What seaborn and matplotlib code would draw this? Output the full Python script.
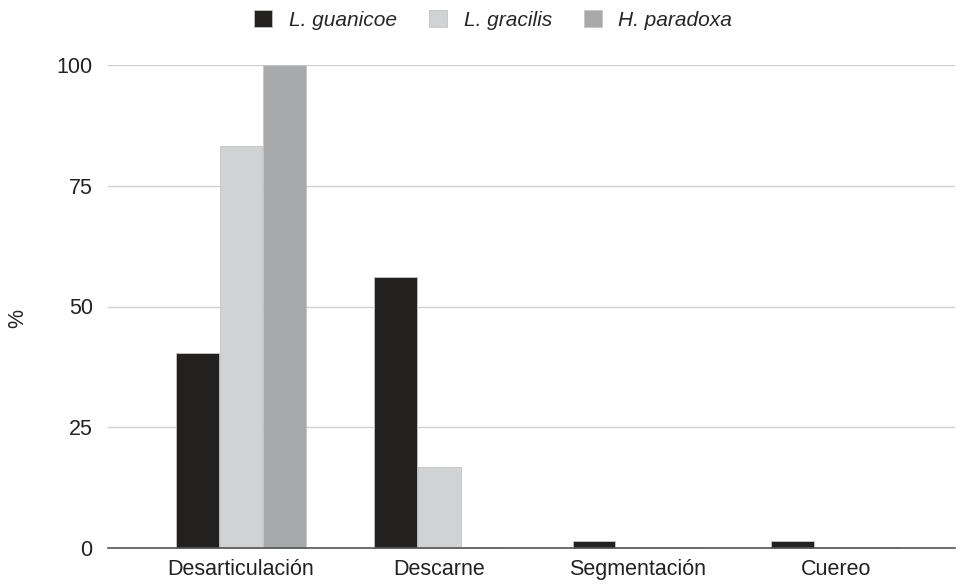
import matplotlib
matplotlib.use("Agg")
import matplotlib.pyplot as plt
import seaborn as sns
import pandas as pd

categories = ["Desarticulación", "Descarne", "Segmentación", "Cuereo"]
species = ["L. guanicoe", "L. gracilis", "H. paradoxa"]
guanicoe = [40.4, 56.1, 1.4, 1.4]
gracilis = [83.3, 16.7, 0.0, 0.0]
paradoxa = [100.0, 0.0, 0.0, 0.0]
yticks = [0, 25, 50, 75, 100]

colors = ["#231f20", "#d1d2d4", "#a7a9ac"]

rows = []
for sp, vals in zip(species, [guanicoe, gracilis, paradoxa]):
    for cat, v in zip(categories, vals):
        rows.append({"Actividad": cat, "Especie": sp, "pct": v})
df = pd.DataFrame(rows)

sns.set_theme(style="white")
plt.rcParams["font.family"] = ["Liberation Sans", "DejaVu Sans"]

fig = plt.figure(figsize=(9.67, 5.85), dpi=100)
ax = fig.add_axes([108 / 967, 1 - 548 / 585, (955 - 108) / 967, (548 - 65) / 585])

sns.barplot(data=df, x="Actividad", y="pct", hue="Especie", order=categories,
            hue_order=species, palette=colors, width=0.66, gap=0.02,
            edgecolor="#c4c4c4", linewidth=0.6, ax=ax, legend=True)
for p in ax.patches:
    p.set_clip_on(False)
    p.set_zorder(3)

fs = 15.5
ax.set_ylim(0, 100)
ax.set_xlim(-0.67, 3.6)
ax.set_yticks(yticks)
ax.set_yticklabels([str(t) for t in yticks], fontsize=fs, color="#222222")
ax.tick_params(axis="x", labelsize=fs, colors="#222222", length=0, pad=8)
ax.tick_params(axis="y", length=0, pad=11)
ax.set_xlabel("")
ax.set_ylabel("")
fig.text(18 / 967, 1 - 318 / 585, "%", rotation=90, fontsize=fs, color="#222222",
         ha="center", va="center")
ax.yaxis.grid(True, color="#d0d0d0", linewidth=1.0)
ax.set_axisbelow(True)
for s in ["top", "right", "left"]:
    ax.spines[s].set_visible(False)
ax.spines["bottom"].set_color("#555555")
ax.spines["bottom"].set_linewidth(1.2)
ax.spines["bottom"].set_zorder(4)

handles, labels = ax.get_legend_handles_labels()
ax.legend(handles, labels, loc="upper center", bbox_to_anchor=(0.455, 1.152),
          ncol=3, frameon=False, prop={"style": "italic", "size": 15},
          handlelength=0.85, handleheight=0.85, columnspacing=1.55, handletextpad=0.8)

fig.savefig("out.png", dpi=100)
